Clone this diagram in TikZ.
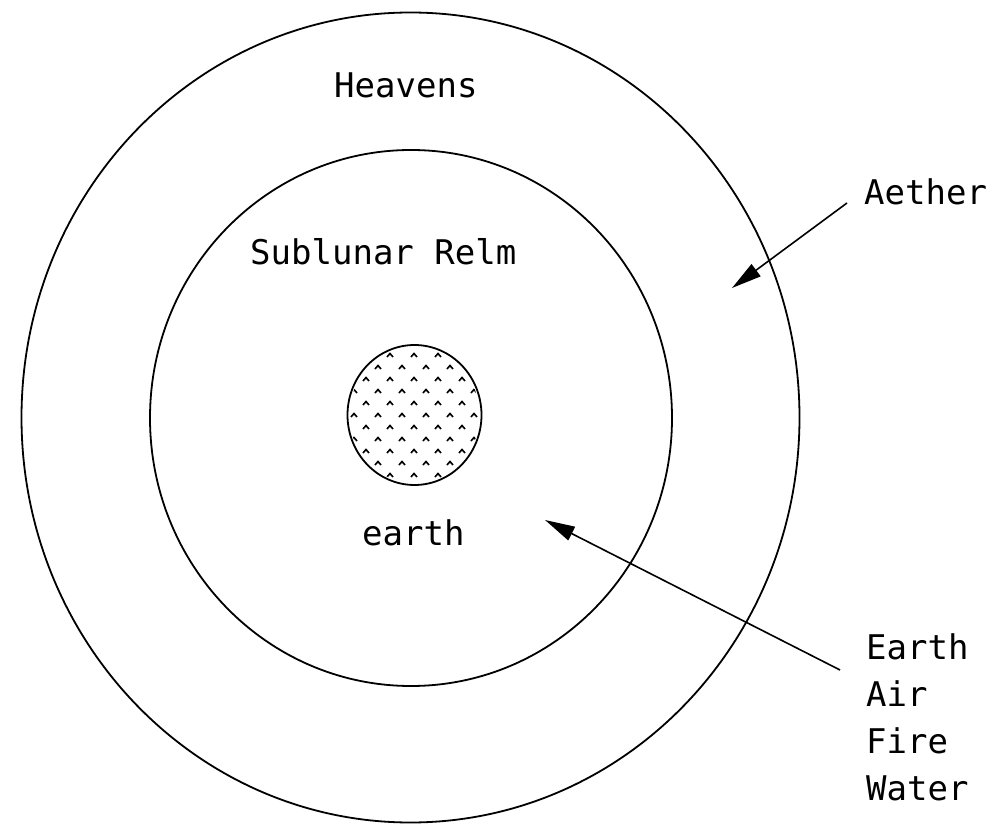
\documentclass[tikz,border=0pt]{standalone}
\usepackage{fontspec}
\setmonofont{DejaVu Sans Mono}
\usetikzlibrary{arrows.meta}
\tikzset{
  lbl/.style={font=\ttfamily\fontsize{34}{47}\selectfont, inner sep=0pt},
  ring/.style={line width=1.8pt},
  pointer/.style={line width=1.6pt, -{Triangle[length=30pt,width=15pt]}}
}
\begin{document}
\begin{tikzpicture}[x=1pt,y=-1pt]
  \useasboundingbox (0,0) rectangle (997,826);
  % spheres
  \draw[ring] (410.5,417.5) ellipse (389 and 405);
  \draw[ring] (411,418) ellipse (261 and 268);
  \draw[ring] (414.5,415) ellipse (67 and 70);
  % dotted texture of the earth
  \begin{scope}
    \clip (414.5,415) ellipse (65 and 68);
    \foreach \r in {0,...,12}
    {
      \foreach \k in {-4,...,3}
      {
        \pgfmathsetmacro\xx{414+12*mod(\r+1,2)+24*\k}
        \pgfmathsetmacro\yy{343+12*\r}
        \draw[line width=1.6pt] (\xx-3,\yy+2) -- (\xx,\yy-1.5) -- (\xx+3,\yy+2);
      }
    }
  \end{scope}
  % labels
  \node[lbl, anchor=base west] (heavens) at (334,98) {Heavens};
  \node[lbl, anchor=base west] (sublunar) at (250,265) {Sublunar Relm};
  \node[lbl, anchor=base west] (earth) at (362,545) {earth};
  \node[lbl, anchor=base west] (aether) at (864,205) {Aether};
  \node[lbl, anchor=north west, align=left] (elements) at (866,633) {Earth\\Air\\Fire\\Water};
  % pointers
  \coordinate (aethertail) at (847,203);
  \coordinate (aethertip) at (732,288);
  \coordinate (elemtail) at (840,670);
  \coordinate (elemtip) at (545,520);
  \draw[pointer] (aethertail) -- (aethertip);
  \draw[pointer] (elemtail) -- (elemtip);
\end{tikzpicture}
\end{document}
